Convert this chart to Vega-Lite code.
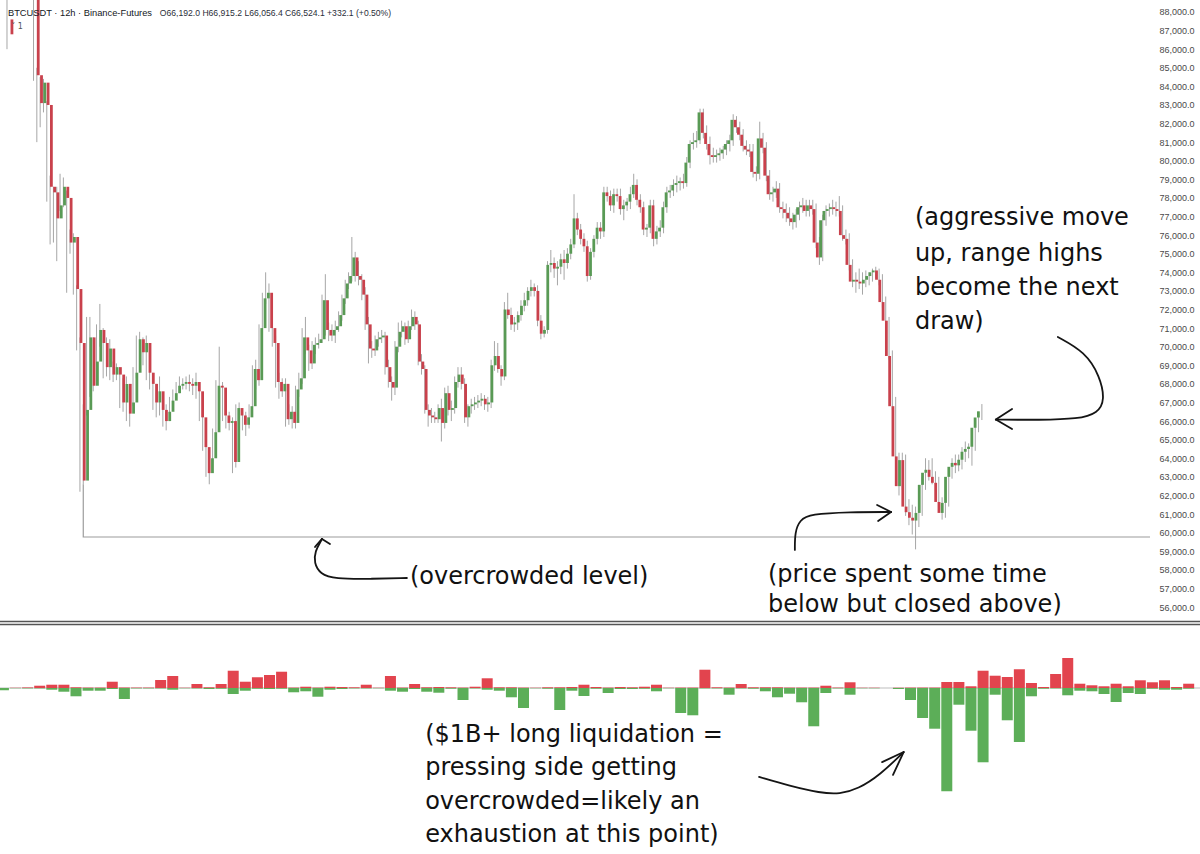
{
"$schema": "https://vega.github.io/schema/vega-lite/v6.json",
"width": 1158, "height": 854,
"autosize": {"type": "none"},
"padding": {"left": 0, "top": 0, "right": 42, "bottom": 0},
"background": "#ffffff",
"config": {"view": {"stroke": null}},
"datasets": {
"candles": [
{"i":0,"o":87.6,"h":88.9,"l":86.0,"c":86.8},{"i":1,"o":88.9,"h":90.1,"l":88.8,"c":89.6},{"i":2,"o":89.6,"h":90.9,"l":89.2,"c":90.4},{"i":3,"o":90.4,"h":91.2,"l":89.8,"c":90.1},{"i":4,"o":90.1,"h":90.6,"l":89.1,"c":89.5},{"i":5,"o":89.5,"h":90.3,"l":88.9,"c":89.9},{"i":6,"o":89.9,"h":91.0,"l":89.4,"c":90.6},{"i":7,"o":90.6,"h":90.9,"l":89.0,"c":89.4},{"i":8,"o":89.4,"h":89.7,"l":84.3,"c":84.6},{"i":9,"o":84.6,"h":85.0,"l":81.0,"c":83.1},
{"i":10,"o":83.1,"h":84.5,"l":81.8,"c":84.2},{"i":11,"o":84.2,"h":84.4,"l":82.6,"c":83.0},{"i":12,"o":83.0,"h":83.2,"l":77.8,"c":78.6},{"i":13,"o":78.6,"h":79.2,"l":75.5,"c":78.3},{"i":14,"o":78.3,"h":78.6,"l":75.6,"c":76.9},{"i":15,"o":76.9,"h":78.6,"l":74.6,"c":77.6},{"i":16,"o":77.6,"h":79.3,"l":77.3,"c":78.6},{"i":17,"o":78.6,"h":79.1,"l":77.5,"c":78.0},{"i":18,"o":78.0,"h":78.4,"l":72.9,"c":75.6},{"i":19,"o":75.6,"h":76.3,"l":75.0,"c":75.9},
{"i":20,"o":75.9,"h":76.1,"l":72.8,"c":73.1},{"i":21,"o":73.1,"h":73.3,"l":69.8,"c":70.2},{"i":22,"o":70.2,"h":70.5,"l":62.2,"c":62.8},{"i":23,"o":62.8,"h":66.9,"l":62.6,"c":66.6},{"i":24,"o":66.6,"h":71.6,"l":66.3,"c":70.5},{"i":25,"o":70.5,"h":71.6,"l":67.3,"c":67.9},{"i":26,"o":67.9,"h":70.5,"l":67.6,"c":69.2},{"i":27,"o":69.2,"h":71.2,"l":68.9,"c":70.9},{"i":28,"o":70.9,"h":72.3,"l":70.0,"c":70.2},{"i":29,"o":70.2,"h":71.0,"l":68.3,"c":68.9},
{"i":30,"o":68.9,"h":70.5,"l":68.4,"c":69.9},{"i":31,"o":69.9,"h":70.4,"l":68.2,"c":68.5},{"i":32,"o":68.5,"h":69.2,"l":68.1,"c":68.9},{"i":33,"o":68.9,"h":69.1,"l":68.2,"c":68.5},{"i":34,"o":68.5,"h":68.9,"l":66.7,"c":67.0},{"i":35,"o":67.0,"h":68.3,"l":66.5,"c":68.0},{"i":36,"o":68.0,"h":68.4,"l":66.0,"c":66.4},{"i":37,"o":66.4,"h":67.3,"l":65.7,"c":67.0},{"i":38,"o":67.0,"h":68.9,"l":66.8,"c":68.6},{"i":39,"o":68.6,"h":70.6,"l":68.3,"c":70.4},
{"i":40,"o":70.4,"h":70.8,"l":69.3,"c":69.7},{"i":41,"o":69.7,"h":70.5,"l":69.0,"c":70.2},{"i":42,"o":70.2,"h":70.6,"l":68.2,"c":68.6},{"i":43,"o":68.6,"h":69.4,"l":67.7,"c":68.0},{"i":44,"o":68.0,"h":68.6,"l":66.6,"c":67.0},{"i":45,"o":67.0,"h":68.0,"l":66.2,"c":67.6},{"i":46,"o":67.6,"h":68.4,"l":66.3,"c":66.6},{"i":47,"o":66.6,"h":67.3,"l":65.7,"c":66.0},{"i":48,"o":66.0,"h":66.9,"l":65.5,"c":66.5},{"i":49,"o":66.5,"h":67.3,"l":66.0,"c":67.1},
{"i":50,"o":67.1,"h":67.7,"l":66.7,"c":67.5},{"i":51,"o":67.5,"h":68.1,"l":67.2,"c":67.9},{"i":52,"o":67.9,"h":68.4,"l":67.5,"c":68.0},{"i":53,"o":68.0,"h":68.3,"l":67.7,"c":68.1},{"i":54,"o":68.1,"h":68.4,"l":67.7,"c":68.0},{"i":55,"o":68.0,"h":68.5,"l":67.6,"c":67.9},{"i":56,"o":67.9,"h":68.3,"l":67.4,"c":68.1},{"i":57,"o":68.1,"h":68.6,"l":67.2,"c":67.6},{"i":58,"o":67.6,"h":67.9,"l":66.0,"c":66.2},{"i":59,"o":66.2,"h":66.4,"l":64.4,"c":64.6},
{"i":60,"o":64.6,"h":64.9,"l":63.0,"c":63.2},{"i":61,"o":63.2,"h":64.3,"l":62.6,"c":64.0},{"i":62,"o":64.0,"h":65.6,"l":63.7,"c":65.4},{"i":63,"o":65.4,"h":68.2,"l":65.1,"c":67.9},{"i":64,"o":67.9,"h":70.0,"l":67.5,"c":67.8},{"i":65,"o":67.8,"h":68.1,"l":66.0,"c":66.3},{"i":66,"o":66.3,"h":66.7,"l":65.6,"c":65.9},{"i":67,"o":65.9,"h":66.5,"l":65.5,"c":66.0},{"i":68,"o":66.0,"h":66.2,"l":63.2,"c":63.8},{"i":69,"o":63.8,"h":66.9,"l":63.5,"c":66.7},
{"i":70,"o":66.7,"h":67.0,"l":66.0,"c":66.3},{"i":71,"o":66.3,"h":66.6,"l":65.5,"c":65.8},{"i":72,"o":65.8,"h":66.5,"l":65.2,"c":66.2},{"i":73,"o":66.2,"h":66.9,"l":65.6,"c":66.8},{"i":74,"o":66.8,"h":69.0,"l":66.5,"c":68.8},{"i":75,"o":68.8,"h":69.3,"l":67.7,"c":68.2},{"i":76,"o":68.2,"h":71.2,"l":67.9,"c":71.0},{"i":77,"o":71.0,"h":72.9,"l":70.7,"c":72.6},{"i":78,"o":72.6,"h":74.0,"l":72.3,"c":72.9},{"i":79,"o":72.9,"h":73.4,"l":70.8,"c":71.0},
{"i":80,"o":71.0,"h":71.4,"l":70.0,"c":70.2},{"i":81,"o":70.2,"h":70.6,"l":67.8,"c":68.1},{"i":82,"o":68.1,"h":68.6,"l":67.2,"c":67.6},{"i":83,"o":67.6,"h":68.3,"l":67.3,"c":68.0},{"i":84,"o":68.0,"h":68.3,"l":65.7,"c":66.1},{"i":85,"o":66.1,"h":66.9,"l":65.8,"c":66.5},{"i":86,"o":66.5,"h":66.8,"l":65.6,"c":65.9},{"i":87,"o":65.9,"h":67.9,"l":65.6,"c":67.7},{"i":88,"o":67.7,"h":68.6,"l":67.3,"c":68.3},{"i":89,"o":68.3,"h":71.0,"l":68.0,"c":70.5},
{"i":90,"o":70.5,"h":71.6,"l":69.6,"c":69.8},{"i":91,"o":69.8,"h":70.1,"l":68.7,"c":69.1},{"i":92,"o":69.1,"h":70.3,"l":68.8,"c":70.1},{"i":93,"o":70.1,"h":70.5,"l":69.6,"c":70.2},{"i":94,"o":70.2,"h":70.7,"l":69.9,"c":70.4},{"i":95,"o":70.4,"h":72.8,"l":70.2,"c":72.5},{"i":96,"o":72.5,"h":73.9,"l":70.6,"c":70.9},{"i":97,"o":70.9,"h":71.3,"l":70.3,"c":70.6},{"i":98,"o":70.6,"h":71.2,"l":70.3,"c":70.9},{"i":99,"o":70.9,"h":71.4,"l":70.2,"c":71.1},
{"i":100,"o":71.1,"h":71.9,"l":70.8,"c":71.7},{"i":101,"o":71.7,"h":72.8,"l":71.4,"c":72.6},{"i":102,"o":72.6,"h":73.6,"l":72.3,"c":73.4},{"i":103,"o":73.4,"h":74.0,"l":73.1,"c":73.8},{"i":104,"o":73.8,"h":75.9,"l":73.5,"c":74.8},{"i":105,"o":74.8,"h":75.1,"l":73.5,"c":73.8},{"i":106,"o":73.8,"h":74.6,"l":73.3,"c":73.6},{"i":107,"o":73.6,"h":73.9,"l":72.5,"c":72.8},{"i":108,"o":72.8,"h":73.2,"l":70.9,"c":71.2},{"i":109,"o":71.2,"h":71.6,"l":69.1,"c":69.9},
{"i":110,"o":69.9,"h":70.3,"l":69.4,"c":69.8},{"i":111,"o":69.8,"h":70.6,"l":69.5,"c":70.4},{"i":112,"o":70.4,"h":70.8,"l":70.0,"c":70.5},{"i":113,"o":70.5,"h":70.9,"l":70.2,"c":70.6},{"i":114,"o":70.6,"h":70.8,"l":68.5,"c":68.9},{"i":115,"o":68.9,"h":69.3,"l":67.8,"c":68.1},{"i":116,"o":68.1,"h":68.4,"l":67.1,"c":67.8},{"i":117,"o":67.8,"h":70.3,"l":67.4,"c":70.0},{"i":118,"o":70.0,"h":71.3,"l":69.7,"c":70.8},{"i":119,"o":70.8,"h":71.4,"l":70.5,"c":71.1},
{"i":120,"o":71.1,"h":71.3,"l":70.1,"c":70.4},{"i":121,"o":70.4,"h":71.4,"l":70.2,"c":71.1},{"i":122,"o":71.1,"h":72.0,"l":70.9,"c":71.6},{"i":123,"o":71.6,"h":71.9,"l":70.9,"c":71.2},{"i":124,"o":71.2,"h":71.4,"l":69.0,"c":69.2},{"i":125,"o":69.2,"h":69.6,"l":68.5,"c":68.8},{"i":126,"o":68.8,"h":69.0,"l":66.4,"c":66.6},{"i":127,"o":66.6,"h":66.9,"l":65.7,"c":66.3},{"i":128,"o":66.3,"h":66.7,"l":65.9,"c":66.2},{"i":129,"o":66.2,"h":66.5,"l":65.9,"c":66.1},
{"i":130,"o":66.1,"h":66.9,"l":65.9,"c":66.7},{"i":131,"o":66.7,"h":67.2,"l":64.9,"c":65.9},{"i":132,"o":65.9,"h":67.8,"l":65.6,"c":67.5},{"i":133,"o":67.5,"h":67.9,"l":66.3,"c":66.6},{"i":134,"o":66.6,"h":67.1,"l":66.0,"c":66.7},{"i":135,"o":66.7,"h":68.4,"l":66.4,"c":68.1},{"i":136,"o":68.1,"h":68.9,"l":67.8,"c":68.5},{"i":137,"o":68.5,"h":68.9,"l":67.7,"c":68.0},{"i":138,"o":68.0,"h":68.3,"l":65.9,"c":66.2},{"i":139,"o":66.2,"h":66.9,"l":65.7,"c":66.8},
{"i":140,"o":66.8,"h":67.2,"l":66.4,"c":66.9},{"i":141,"o":66.9,"h":67.3,"l":66.6,"c":67.0},{"i":142,"o":67.0,"h":67.4,"l":66.7,"c":67.1},{"i":143,"o":67.1,"h":67.5,"l":66.8,"c":67.2},{"i":144,"o":67.2,"h":67.4,"l":66.6,"c":66.9},{"i":145,"o":66.9,"h":67.3,"l":66.5,"c":67.0},{"i":146,"o":67.0,"h":69.3,"l":66.7,"c":69.0},{"i":147,"o":69.0,"h":70.3,"l":68.7,"c":69.5},{"i":148,"o":69.5,"h":70.2,"l":68.6,"c":68.8},{"i":149,"o":68.8,"h":69.0,"l":67.9,"c":68.4},
{"i":150,"o":68.4,"h":72.4,"l":68.2,"c":72.0},{"i":151,"o":72.0,"h":72.9,"l":71.5,"c":71.7},{"i":152,"o":71.7,"h":72.1,"l":70.9,"c":71.2},{"i":153,"o":71.2,"h":71.6,"l":70.8,"c":71.3},{"i":154,"o":71.3,"h":71.9,"l":70.9,"c":71.7},{"i":155,"o":71.7,"h":72.5,"l":71.4,"c":72.2},{"i":156,"o":72.2,"h":72.9,"l":71.9,"c":72.5},{"i":157,"o":72.5,"h":73.2,"l":72.2,"c":73.0},{"i":158,"o":73.0,"h":73.6,"l":72.7,"c":73.2},{"i":159,"o":73.2,"h":73.4,"l":72.7,"c":73.0},
{"i":160,"o":73.0,"h":73.3,"l":71.1,"c":71.4},{"i":161,"o":71.4,"h":71.7,"l":70.4,"c":70.7},{"i":162,"o":70.7,"h":71.1,"l":70.5,"c":70.9},{"i":163,"o":70.9,"h":74.6,"l":70.7,"c":74.4},{"i":164,"o":74.4,"h":75.2,"l":74.0,"c":74.5},{"i":165,"o":74.5,"h":74.8,"l":73.7,"c":74.2},{"i":166,"o":74.2,"h":74.6,"l":73.3,"c":74.3},{"i":167,"o":74.3,"h":75.0,"l":73.9,"c":74.7},{"i":168,"o":74.7,"h":75.2,"l":73.6,"c":74.5},{"i":169,"o":74.5,"h":75.3,"l":74.2,"c":75.0},
{"i":170,"o":75.0,"h":75.8,"l":74.7,"c":75.5},{"i":171,"o":75.5,"h":78.2,"l":75.3,"c":76.9},{"i":172,"o":76.9,"h":77.2,"l":76.0,"c":76.3},{"i":173,"o":76.3,"h":76.6,"l":75.5,"c":75.8},{"i":174,"o":75.8,"h":76.1,"l":75.1,"c":75.4},{"i":175,"o":75.4,"h":75.7,"l":73.5,"c":73.8},{"i":176,"o":73.8,"h":75.3,"l":73.6,"c":75.1},{"i":177,"o":75.1,"h":76.0,"l":74.8,"c":75.8},{"i":178,"o":75.8,"h":76.7,"l":75.5,"c":76.4},{"i":179,"o":76.4,"h":76.7,"l":75.8,"c":76.2},
{"i":180,"o":76.2,"h":78.6,"l":75.9,"c":78.3},{"i":181,"o":78.3,"h":78.6,"l":77.8,"c":78.1},{"i":182,"o":78.1,"h":78.4,"l":77.3,"c":77.6},{"i":183,"o":77.6,"h":78.5,"l":77.2,"c":78.2},{"i":184,"o":78.2,"h":78.5,"l":77.8,"c":78.1},{"i":185,"o":78.1,"h":78.5,"l":77.1,"c":77.4},{"i":186,"o":77.4,"h":77.9,"l":76.8,"c":77.6},{"i":187,"o":77.6,"h":78.0,"l":77.3,"c":77.8},{"i":188,"o":77.8,"h":78.6,"l":77.4,"c":78.2},{"i":189,"o":78.2,"h":79.3,"l":78.0,"c":78.7},
{"i":190,"o":78.7,"h":79.0,"l":77.6,"c":77.9},{"i":191,"o":77.9,"h":78.2,"l":77.2,"c":77.5},{"i":192,"o":77.5,"h":77.8,"l":76.0,"c":76.3},{"i":193,"o":76.3,"h":76.6,"l":75.9,"c":76.4},{"i":194,"o":76.4,"h":77.9,"l":76.1,"c":77.6},{"i":195,"o":77.6,"h":77.9,"l":75.4,"c":75.8},{"i":196,"o":75.8,"h":76.5,"l":75.5,"c":76.2},{"i":197,"o":76.2,"h":76.8,"l":75.9,"c":76.4},{"i":198,"o":76.4,"h":77.8,"l":76.1,"c":77.5},{"i":199,"o":77.5,"h":78.6,"l":77.2,"c":78.3},
{"i":200,"o":78.3,"h":78.7,"l":78.0,"c":78.4},{"i":201,"o":78.4,"h":79.0,"l":78.1,"c":78.7},{"i":202,"o":78.7,"h":79.2,"l":78.3,"c":78.8},{"i":203,"o":78.8,"h":79.1,"l":78.4,"c":78.9},{"i":204,"o":78.9,"h":79.3,"l":78.5,"c":78.8},{"i":205,"o":78.8,"h":80.2,"l":78.6,"c":79.9},{"i":206,"o":79.9,"h":81.1,"l":79.6,"c":80.9},{"i":207,"o":80.9,"h":81.5,"l":80.6,"c":81.0},{"i":208,"o":81.0,"h":81.6,"l":80.7,"c":81.1},{"i":209,"o":81.1,"h":82.8,"l":80.9,"c":82.6},
{"i":210,"o":82.6,"h":82.8,"l":81.2,"c":81.5},{"i":211,"o":81.5,"h":81.9,"l":80.6,"c":80.9},{"i":212,"o":80.9,"h":81.3,"l":79.8,"c":80.3},{"i":213,"o":80.3,"h":80.7,"l":79.9,"c":80.2},{"i":214,"o":80.2,"h":80.6,"l":79.9,"c":80.3},{"i":215,"o":80.3,"h":80.7,"l":80.0,"c":80.4},{"i":216,"o":80.4,"h":80.8,"l":80.1,"c":80.6},{"i":217,"o":80.6,"h":81.1,"l":80.3,"c":80.9},{"i":218,"o":80.9,"h":81.4,"l":80.5,"c":81.1},{"i":219,"o":81.1,"h":82.5,"l":80.8,"c":82.2},
{"i":220,"o":82.2,"h":82.4,"l":81.5,"c":81.8},{"i":221,"o":81.8,"h":82.1,"l":81.1,"c":81.4},{"i":222,"o":81.4,"h":81.7,"l":80.5,"c":80.8},{"i":223,"o":80.8,"h":81.1,"l":80.3,"c":80.6},{"i":224,"o":80.6,"h":80.9,"l":80.2,"c":80.5},{"i":225,"o":80.5,"h":80.9,"l":79.1,"c":79.4},{"i":226,"o":79.4,"h":79.7,"l":78.9,"c":79.3},{"i":227,"o":79.3,"h":82.1,"l":79.0,"c":81.2},{"i":228,"o":81.2,"h":81.5,"l":80.4,"c":80.7},{"i":229,"o":80.7,"h":81.0,"l":78.9,"c":79.2},
{"i":230,"o":79.2,"h":79.5,"l":77.9,"c":78.2},{"i":231,"o":78.2,"h":78.6,"l":77.8,"c":78.3},{"i":232,"o":78.3,"h":78.9,"l":78.0,"c":78.5},{"i":233,"o":78.5,"h":78.8,"l":77.2,"c":77.5},{"i":234,"o":77.5,"h":77.8,"l":76.9,"c":77.4},{"i":235,"o":77.4,"h":77.7,"l":76.7,"c":77.2},{"i":236,"o":77.2,"h":77.5,"l":76.5,"c":76.9},{"i":237,"o":76.9,"h":77.2,"l":76.3,"c":76.7},{"i":238,"o":76.7,"h":77.4,"l":76.4,"c":77.1},{"i":239,"o":77.1,"h":77.8,"l":76.8,"c":77.5},
{"i":240,"o":77.5,"h":78.0,"l":77.2,"c":77.6},{"i":241,"o":77.6,"h":77.9,"l":77.0,"c":77.3},{"i":242,"o":77.3,"h":77.9,"l":77.0,"c":77.6},{"i":243,"o":77.6,"h":77.9,"l":77.1,"c":77.4},{"i":244,"o":77.4,"h":77.7,"l":75.3,"c":75.6},{"i":245,"o":75.6,"h":75.9,"l":74.4,"c":74.8},{"i":246,"o":74.8,"h":77.1,"l":74.6,"c":76.8},{"i":247,"o":76.8,"h":77.6,"l":76.5,"c":77.3},{"i":248,"o":77.3,"h":77.7,"l":77.0,"c":77.4},{"i":249,"o":77.4,"h":77.9,"l":77.1,"c":77.5},
{"i":250,"o":77.5,"h":77.8,"l":77.0,"c":77.4},{"i":251,"o":77.4,"h":78.1,"l":77.0,"c":77.3},{"i":252,"o":77.3,"h":77.6,"l":75.7,"c":76.0},{"i":253,"o":76.0,"h":76.3,"l":75.5,"c":75.8},{"i":254,"o":75.8,"h":76.1,"l":74.1,"c":74.4},{"i":255,"o":74.4,"h":74.7,"l":73.2,"c":73.5},{"i":256,"o":73.5,"h":74.0,"l":72.9,"c":73.6},{"i":257,"o":73.6,"h":74.2,"l":73.1,"c":73.5},{"i":258,"o":73.5,"h":74.0,"l":72.8,"c":73.4},{"i":259,"o":73.4,"h":74.1,"l":73.2,"c":73.6},
{"i":260,"o":73.6,"h":74.0,"l":73.3,"c":73.8},{"i":261,"o":73.8,"h":74.2,"l":73.5,"c":74.0},{"i":262,"o":74.0,"h":74.3,"l":73.7,"c":74.1},{"i":263,"o":74.1,"h":74.2,"l":73.3,"c":73.6},{"i":264,"o":73.6,"h":73.9,"l":72.1,"c":72.4},{"i":265,"o":72.4,"h":72.7,"l":71.1,"c":71.4},{"i":266,"o":71.4,"h":71.6,"l":69.3,"c":69.5},{"i":267,"o":69.5,"h":69.8,"l":66.6,"c":66.8},{"i":268,"o":66.8,"h":67.3,"l":63.8,"c":64.1},{"i":269,"o":64.1,"h":64.3,"l":62.0,"c":62.5},
{"i":270,"o":62.5,"h":64.3,"l":62.3,"c":63.9},{"i":271,"o":63.9,"h":64.2,"l":60.9,"c":61.4},{"i":272,"o":61.4,"h":61.8,"l":60.4,"c":61.1},{"i":273,"o":61.1,"h":61.5,"l":59.9,"c":60.8},{"i":274,"o":60.8,"h":61.4,"l":59.1,"c":60.65},{"i":275,"o":60.65,"h":61.6,"l":60.3,"c":61.06},{"i":276,"o":61.06,"h":63.0,"l":60.9,"c":62.57},{"i":277,"o":62.57,"h":64.0,"l":62.3,"c":63.22},{"i":278,"o":63.22,"h":63.9,"l":62.8,"c":63.38},{"i":279,"o":63.38,"h":64.0,"l":62.6,"c":63.0},
{"i":280,"o":63.0,"h":63.3,"l":62.2,"c":62.68},{"i":281,"o":62.68,"h":63.0,"l":61.2,"c":61.65},{"i":282,"o":61.65,"h":61.9,"l":60.7,"c":61.06},{"i":283,"o":61.06,"h":62.0,"l":60.8,"c":61.6},{"i":284,"o":61.6,"h":63.3,"l":61.4,"c":63.0},{"i":285,"o":63.0,"h":64.0,"l":62.9,"c":63.54},{"i":286,"o":63.54,"h":64.2,"l":63.2,"c":63.75},{"i":287,"o":63.75,"h":64.2,"l":63.3,"c":63.62},{"i":288,"o":63.62,"h":64.6,"l":63.4,"c":63.92},{"i":289,"o":63.92,"h":64.9,"l":63.8,"c":64.35},
{"i":290,"o":64.35,"h":64.8,"l":64.0,"c":64.5},{"i":291,"o":64.5,"h":65.1,"l":63.6,"c":64.62},{"i":292,"o":64.62,"h":65.9,"l":64.4,"c":65.64},{"i":293,"o":65.64,"h":66.5,"l":65.4,"c":66.192},{"i":294,"o":66.192,"h":66.915,"l":66.056,"c":66.524}
],
"liq": [
{"j":0,"r":0,"g":-15},{"j":1,"r":2,"g":-2},{"j":2,"r":4,"g":-3},{"j":3,"r":16,"g":-3},{"j":4,"r":23,"g":-12},{"j":5,"r":23,"g":-26},{"j":6,"r":5,"g":-58},{"j":7,"r":3,"g":-19},{"j":8,"r":3,"g":-19},{"j":9,"r":44,"g":-7},
{"j":10,"r":3,"g":-77},{"j":11,"r":3,"g":-3},{"j":12,"r":3,"g":-3},{"j":13,"r":56,"g":-3},{"j":14,"r":84,"g":-12},{"j":15,"r":2,"g":-2},{"j":16,"r":28,"g":-3},{"j":17,"r":5,"g":-7},{"j":18,"r":28,"g":-5},{"j":19,"r":121,"g":-42},
{"j":20,"r":44,"g":-19},{"j":21,"r":75,"g":-5},{"j":22,"r":91,"g":-7},{"j":23,"r":114,"g":-5},{"j":24,"r":3,"g":-30},{"j":25,"r":9,"g":-23},{"j":26,"r":3,"g":-61},{"j":27,"r":9,"g":-12},{"j":28,"r":7,"g":-7},{"j":29,"r":5,"g":-3},
{"j":30,"r":23,"g":-3},{"j":31,"r":2,"g":-2},{"j":32,"r":84,"g":-19},{"j":33,"r":3,"g":-26},{"j":34,"r":28,"g":-7},{"j":35,"r":5,"g":-26},{"j":36,"r":7,"g":-33},{"j":37,"r":5,"g":-5},{"j":38,"r":3,"g":-84},{"j":39,"r":9,"g":-3},
{"j":40,"r":68,"g":-12},{"j":41,"r":5,"g":-19},{"j":42,"r":5,"g":-65},{"j":43,"r":3,"g":-140},{"j":44,"r":2,"g":-2},{"j":45,"r":5,"g":-5},{"j":46,"r":5,"g":-154},{"j":47,"r":7,"g":-19},{"j":48,"r":23,"g":-56},{"j":49,"r":7,"g":-5},
{"j":50,"r":3,"g":-35},{"j":51,"r":7,"g":-7},{"j":52,"r":5,"g":-7},{"j":53,"r":9,"g":-5},{"j":54,"r":23,"g":-23},{"j":55,"r":2,"g":-2},{"j":56,"r":3,"g":-175},{"j":57,"r":3,"g":-191},{"j":58,"r":128,"g":-3},{"j":59,"r":5,"g":-3},
{"j":60,"r":3,"g":-47},{"j":61,"r":28,"g":-3},{"j":62,"r":5,"g":-5},{"j":63,"r":5,"g":-23},{"j":64,"r":5,"g":-65},{"j":65,"r":3,"g":-40},{"j":66,"r":3,"g":-100},{"j":67,"r":3,"g":-268},{"j":68,"r":16,"g":-35},{"j":69,"r":3,"g":-3},
{"j":70,"r":40,"g":-47},{"j":71,"r":2,"g":-2},{"j":72,"r":2,"g":-2},{"j":73,"r":0,"g":0},{"j":74,"r":2,"g":-7},{"j":75,"r":3,"g":-84},{"j":76,"r":3,"g":-210},{"j":77,"r":3,"g":-285},{"j":78,"r":42,"g":-723},{"j":79,"r":42,"g":-117},
{"j":80,"r":12,"g":-299},{"j":81,"r":121,"g":-520},{"j":82,"r":86,"g":-47},{"j":83,"r":77,"g":-226},{"j":84,"r":131,"g":-378},{"j":85,"r":35,"g":-58},{"j":86,"r":7,"g":-5},{"j":87,"r":98,"g":-3},{"j":88,"r":210,"g":-51},{"j":89,"r":30,"g":-19},
{"j":90,"r":19,"g":-23},{"j":91,"r":12,"g":-42},{"j":92,"r":30,"g":-98},{"j":93,"r":12,"g":-35},{"j":94,"r":54,"g":-42},{"j":95,"r":40,"g":-5},{"j":96,"r":54,"g":-12},{"j":97,"r":7,"g":-12},{"j":98,"r":30,"g":-5}
],
"level": [{"k":0,"i":23,"p":62.6},{"k":1,"i":23,"p":59.765},{"k":2,"i":344.7,"p":59.765}],
"sep": [{"p":55.22},{"p":55.06}],
"arrows": [
{"a":"A","k":0,"i":120.6,"p":57.56},{"a":"A","k":1,"i":109.5,"p":57.51},{"a":"A","k":2,"i":98.9,"p":57.51},{"a":"A","k":3,"i":94.4,"p":57.78},{"a":"A","k":4,"i":92.6,"p":58.37},{"a":"A","k":5,"i":92.9,"p":59.01},{"a":"A","k":6,"i":94.7,"p":59.55},{"a":"A","k":7,"i":95.0,"p":59.66},
{"a":"Ah1","k":0,"i":95.0,"p":59.66},{"a":"Ah1","k":1,"i":92.9,"p":59.23},
{"a":"Ah2","k":0,"i":95.0,"p":59.66},{"a":"Ah2","k":1,"i":97.4,"p":59.39},
{"a":"B","k":0,"i":237.6,"p":59.07},{"a":"B","k":1,"i":237.6,"p":60.03},{"a":"B","k":2,"i":239.1,"p":60.68},{"a":"B","k":3,"i":242.2,"p":61.0},{"a":"B","k":4,"i":254.2,"p":61.11},{"a":"B","k":5,"i":266.6,"p":61.11},
{"a":"Bh1","k":0,"i":266.6,"p":61.11},{"a":"Bh1","k":1,"i":262.4,"p":61.49},
{"a":"Bh2","k":0,"i":266.6,"p":61.11},{"a":"Bh2","k":1,"i":262.7,"p":60.62},
{"a":"C","k":0,"i":316.9,"p":70.52},{"a":"C","k":1,"i":325.1,"p":69.72},{"a":"C","k":2,"i":329.6,"p":68.42},{"a":"C","k":3,"i":331.1,"p":67.13},{"a":"C","k":4,"i":329.0,"p":66.43},{"a":"C","k":5,"i":323.0,"p":66.11},{"a":"C","k":6,"i":311.5,"p":66.06},{"a":"C","k":7,"i":298.2,"p":66.08},
{"a":"Ch1","k":0,"i":298.2,"p":66.08},{"a":"Ch1","k":1,"i":303.1,"p":66.65},
{"a":"Ch2","k":0,"i":298.2,"p":66.08},{"a":"Ch2","k":1,"i":303.1,"p":65.57},
{"a":"D","k":0,"i":226.8,"p":46.86},{"a":"D","k":1,"i":236.1,"p":46.37},{"a":"D","k":2,"i":245.2,"p":46.0},{"a":"D","k":3,"i":251.2,"p":45.94},{"a":"D","k":4,"i":256.6,"p":46.21},{"a":"D","k":5,"i":263.3,"p":46.97},{"a":"D","k":6,"i":270.4,"p":48.2},
{"a":"Dh1","k":0,"i":270.4,"p":48.2},{"a":"Dh1","k":1,"i":263.9,"p":47.66},
{"a":"Dh2","k":0,"i":270.4,"p":48.2},{"a":"Dh2","k":1,"i":267.2,"p":46.97}
],
"header": [{"t":"BTCUSDT · 12h · Binance-Futures","i":0.3,"p":87.95}],
"ohlc": [{"t":"O66,192.0 H66,915.2 L66,056.4 C66,524.1 +332.1 (+0.50%)","i":46.1,"p":87.95}],
"box": [{"t":"˅ 1","i":1.3,"p":87.19}],
"notes": [
{"t":"(aggressive move","i":273.8,"p":76.92},
{"t":"up, range highs","i":273.8,"p":74.99},
{"t":"become the next","i":273.8,"p":73.16},
{"t":"draw)","i":273.8,"p":71.33},
{"t":"(overcrowded level)","i":121.5,"p":57.61},
{"t":"(price spent some time","i":229.5,"p":57.72},
{"t":"below but closed above)","i":229.5,"p":56.11},
{"t":"($1B+ long liquidation =","i":126.1,"p":49.12},
{"t":"pressing side getting","i":126.1,"p":47.34},
{"t":"overcrowded=likely an","i":126.1,"p":45.51},
{"t":"exhaustion at this point)","i":126.1,"p":43.74}
]
},
"layer": [
{"data": {"name": "candles"},
 "mark": {"type": "rule", "color": "#a6a6a6", "strokeWidth": 1, "clip": true},
 "encoding": {
  "x": {"field": "i", "type": "quantitative", "scale": {"domain": [-2.111, 347.11], "nice": false, "zero": false}, "axis": null},
  "y": {"field": "l", "type": "quantitative", "scale": {"domain": [42.717, 88.645], "nice": false, "zero": false},
        "axis": {"orient": "right", "values": [56,57,58,59,60,61,62,63,64,65,66,67,68,69,70,71,72,73,74,75,76,77,78,79,80,81,82,83,84,85,86,87,88],
                 "labelExpr": "format(datum.value*1000, ',.1f')", "domain": false, "ticks": false, "grid": false, "labelPadding": 1,
                 "labelAlign": "left", "labelBaseline": "middle", "labelFontSize": 9, "labelFont": "Liberation Sans", "labelColor": "#4a4a4a",
                 "labelOverlap": false, "labelFlush": false, "title": null}},
  "y2": {"field": "h"}
 }},
{"data": {"name": "candles"},
 "mark": {"type": "bar", "size": 2.8, "clip": true},
 "encoding": {
  "x": {"field": "i", "type": "quantitative", "scale": {"domain": [-2.111, 347.11], "nice": false, "zero": false}, "axis": null},
  "y": {"field": "o", "type": "quantitative", "scale": {"domain": [42.717, 88.645], "nice": false, "zero": false}, "axis": null},
  "y2": {"field": "c"},
  "color": {"condition": {"test": "datum.c >= datum.o", "value": "#599a55"}, "value": "#c9414c"}
 }},
{"data": {"name": "level"},
 "mark": {"type": "line", "color": "#9c9c9c", "strokeWidth": 1.2},
 "encoding": {
  "x": {"field": "i", "type": "quantitative", "scale": {"domain": [-2.111, 347.11], "nice": false, "zero": false}, "axis": null},
  "y": {"field": "p", "type": "quantitative", "scale": {"domain": [42.717, 88.645], "nice": false, "zero": false}, "axis": null},
  "order": {"field": "k"}
 }},
{"data": {"name": "sep"},
 "mark": {"type": "rule", "color": "#555555", "strokeWidth": 1.3},
 "encoding": {
  "x": {"datum": -2.2, "type": "quantitative", "scale": {"domain": [-2.111, 347.11], "nice": false, "zero": false}, "axis": null},
  "x2": {"datum": 360},
  "y": {"field": "p", "type": "quantitative", "scale": {"domain": [42.717, 88.645], "nice": false, "zero": false}, "axis": null}
 }},
{"data": {"name": "arrows"},
 "mark": {"type": "line", "color": "#151515", "strokeWidth": 1.8, "interpolate": "basis", "strokeCap": "round"},
 "encoding": {
  "x": {"field": "i", "type": "quantitative", "scale": {"domain": [-2.111, 347.11], "nice": false, "zero": false}, "axis": null},
  "y": {"field": "p", "type": "quantitative", "scale": {"domain": [42.717, 88.645], "nice": false, "zero": false}, "axis": null},
  "detail": {"field": "a"},
  "order": {"field": "k"}
 }},
{"data": {"name": "header"},
 "mark": {"type": "text", "align": "left", "baseline": "middle", "font": "Liberation Sans", "fontSize": 9.3, "color": "#131722"},
 "encoding": {
  "x": {"field": "i", "type": "quantitative", "scale": {"domain": [-2.111, 347.11], "nice": false, "zero": false}, "axis": null},
  "y": {"field": "p", "type": "quantitative", "scale": {"domain": [42.717, 88.645], "nice": false, "zero": false}, "axis": null},
  "text": {"field": "t"}
 }},
{"data": {"name": "ohlc"},
 "mark": {"type": "text", "align": "left", "baseline": "middle", "font": "Liberation Sans", "fontSize": 8.6, "color": "#2a2e39"},
 "encoding": {
  "x": {"field": "i", "type": "quantitative", "scale": {"domain": [-2.111, 347.11], "nice": false, "zero": false}, "axis": null},
  "y": {"field": "p", "type": "quantitative", "scale": {"domain": [42.717, 88.645], "nice": false, "zero": false}, "axis": null},
  "text": {"field": "t"}
 }},
{"data": {"name": "box"},
 "mark": {"type": "text", "align": "left", "baseline": "middle", "font": "DejaVu Sans", "fontSize": 8, "color": "#555555"},
 "encoding": {
  "x": {"field": "i", "type": "quantitative", "scale": {"domain": [-2.111, 347.11], "nice": false, "zero": false}, "axis": null},
  "y": {"field": "p", "type": "quantitative", "scale": {"domain": [42.717, 88.645], "nice": false, "zero": false}, "axis": null},
  "text": {"field": "t"}
 }},
{"data": {"name": "notes"},
 "mark": {"type": "text", "align": "left", "baseline": "middle", "font": "DejaVu Sans", "fontSize": 24, "color": "#111111"},
 "encoding": {
  "x": {"field": "i", "type": "quantitative", "scale": {"domain": [-2.111, 347.11], "nice": false, "zero": false}, "axis": null},
  "y": {"field": "p", "type": "quantitative", "scale": {"domain": [42.717, 88.645], "nice": false, "zero": false}, "axis": null},
  "text": {"field": "t"}
 }},
{"data": {"values": [{"z": 0}]},
 "mark": {"type": "rule", "color": "#bdbdbd", "strokeWidth": 1},
 "encoding": {
  "x": {"datum": -0.2, "type": "quantitative", "scale": {"domain": [0.131, 95.05], "nice": false, "zero": false}, "axis": null},
  "x2": {"datum": 99},
  "y": {"field": "z", "type": "quantitative", "scale": {"domain": [-1162, 4816], "nice": false, "zero": false}, "axis": null}
 }},
{"data": {"name": "liq"},
 "mark": {"type": "bar", "size": 11, "color": "#e2444e"},
 "encoding": {
  "x": {"field": "j", "type": "quantitative", "scale": {"domain": [0.131, 95.05], "nice": false, "zero": false}, "axis": null},
  "y": {"field": "r", "type": "quantitative", "scale": {"domain": [-1162, 4816], "nice": false, "zero": false}, "axis": null},
  "y2": {"datum": 0}
 }},
{"data": {"name": "liq"},
 "mark": {"type": "bar", "size": 11, "color": "#5cae58"},
 "encoding": {
  "x": {"field": "j", "type": "quantitative", "scale": {"domain": [0.131, 95.05], "nice": false, "zero": false}, "axis": null},
  "y": {"field": "g", "type": "quantitative", "scale": {"domain": [-1162, 4816], "nice": false, "zero": false}, "axis": null},
  "y2": {"datum": 0}
 }}
],
"resolve": {"scale": {"x": "independent", "y": "independent"}}
}
